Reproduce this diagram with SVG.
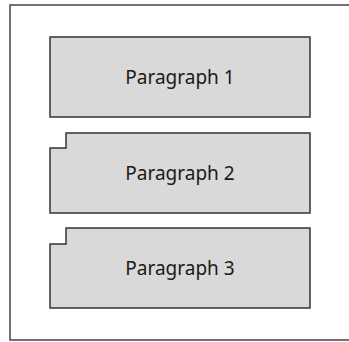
<svg xmlns="http://www.w3.org/2000/svg" width="349" height="342" viewBox="0 0 349 342">
  <style>
    .frame { fill: #ffffff; stroke: #444444; stroke-width: 1.5; }
    .para { fill: #d9d9d9; stroke: #333333; stroke-width: 1.5; }
    .label { font-family: "Noto Sans", "DejaVu Sans", sans-serif; font-size: 19px; fill: #1a1a1a; text-anchor: middle; dominant-baseline: central; }
  </style>
  <!-- page frame, centred on the paragraph column -->
  <rect class="frame" x="10" y="5" width="340" height="335"/>
  <g id="paragraph-1">
    <rect class="para" x="50" y="37" width="260" height="80"/>
    <text class="label" x="180" y="77">Paragraph 1</text>
  </g>
  <g id="paragraph-2">
    <path class="para" d="M66 133 H310 V213 H50 V148 H66 Z"/>
    <text class="label" x="180" y="173">Paragraph 2</text>
  </g>
  <g id="paragraph-3">
    <path class="para" d="M66 228 H310 V308 H50 V244 H66 Z"/>
    <text class="label" x="180" y="268">Paragraph 3</text>
  </g>
  <g id="connectors"/>
</svg>
